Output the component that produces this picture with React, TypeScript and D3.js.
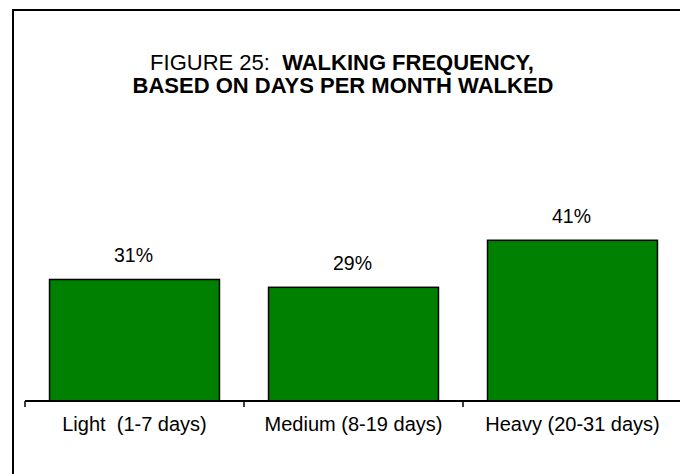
import React, { useRef, useEffect } from 'react';
import * as d3 from 'd3';

const categories = ['Light  (1-7 days)', 'Medium (8-19 days)', 'Heavy (20-31 days)'];
const percents = [31, 29, 41];
const titleLine1Normal = 'FIGURE 25:  ';
const titleLine1Bold = 'WALKING FREQUENCY,';
const titleLine2 = 'BASED ON DAYS PER MONTH WALKED';

const App = () => {
  const svgRef = useRef<SVGSVGElement | null>(null);

  useEffect(() => {
    const width = 680;
    const height = 474;
    const font = 'Arial, "Liberation Sans", sans-serif';

    document.documentElement.style.overflow = 'hidden';
    document.body.style.margin = '0';

    const svg = d3.select(svgRef.current)
      .attr('width', width)
      .attr('height', height)
      .attr('viewBox', `0 0 ${width} ${height}`);

    svg.selectAll('*').remove();

    // outer frame: only the left and top edges fall inside the picture
    svg.append('path')
      .attr('d', `M13,${height + 20}V10H${width + 20}`)
      .attr('fill', 'none')
      .attr('stroke', 'black')
      .attr('stroke-width', 2);

    // title
    const t1 = svg.append('text')
      .attr('x', 342)
      .attr('y', 70)
      .attr('text-anchor', 'middle')
      .style('font-family', font)
      .style('font-size', '22px')
      .style('white-space', 'pre');
    t1.append('tspan').text(titleLine1Normal);
    t1.append('tspan').attr('font-weight', 'bold').text(titleLine1Bold);

    svg.append('text')
      .attr('x', 343)
      .attr('y', 93)
      .attr('text-anchor', 'middle')
      .attr('font-weight', 'bold')
      .style('font-family', font)
      .style('font-size', '22px')
      .text(titleLine2);

    const baseline = 401;
    const x = d3.scaleBand()
      .domain(categories)
      .range([25, 682])
      .paddingInner(0.224)
      .paddingOuter(0.112);

    const y = d3.scaleLinear()
      .domain([0, 50])
      .range([baseline, 205]);

    const step = x.step();
    const bandStart = (c: string) => (x(c) as number) - step * 0.112;

    svg.selectAll('.bar')
      .data(percents)
      .enter()
      .append('rect')
      .attr('class', 'bar')
      .attr('x', (d, i) => x(categories[i]) as number)
      .attr('y', d => y(d))
      .attr('width', x.bandwidth())
      .attr('height', d => baseline - y(d))
      .attr('fill', '#008000')
      .attr('stroke', 'black')
      .attr('stroke-width', 1.5);

    // category axis
    svg.append('line')
      .attr('x1', 25)
      .attr('x2', width + 20)
      .attr('y1', baseline)
      .attr('y2', baseline)
      .attr('stroke', 'black')
      .attr('stroke-width', 2);

    const tickXs = categories.map(c => bandStart(c)).concat([bandStart(categories[2]) + step]);
    svg.selectAll('.tick')
      .data(tickXs)
      .enter()
      .append('line')
      .attr('class', 'tick')
      .attr('x1', d => d)
      .attr('x2', d => d)
      .attr('y1', baseline)
      .attr('y2', baseline + 6)
      .attr('stroke', 'black')
      .attr('stroke-width', 1.5);

    svg.selectAll('.cat')
      .data(categories)
      .enter()
      .append('text')
      .attr('class', 'cat')
      .attr('x', d => (x(d) as number) + x.bandwidth() / 2)
      .attr('y', 431)
      .attr('text-anchor', 'middle')
      .style('font-family', font)
      .style('font-size', '20px')
      .style('white-space', 'pre')
      .text(d => d);

    svg.selectAll('.val')
      .data(percents)
      .enter()
      .append('text')
      .attr('class', 'val')
      .attr('x', (d, i) => (x(categories[i]) as number) + x.bandwidth() / 2 - 1)
      .attr('y', d => y(d) - 17)
      .attr('text-anchor', 'middle')
      .style('font-family', font)
      .style('font-size', '19.5px')
      .text(d => `${d}%`);

    return () => {
      d3.select(svgRef.current).selectAll('*').remove();
    };
  }, []);

  return (
    <div>
      <svg ref={svgRef} style={{ position: 'absolute', left: 0, top: 0, display: 'block' }}></svg>
    </div>
  );
};

export default App;
